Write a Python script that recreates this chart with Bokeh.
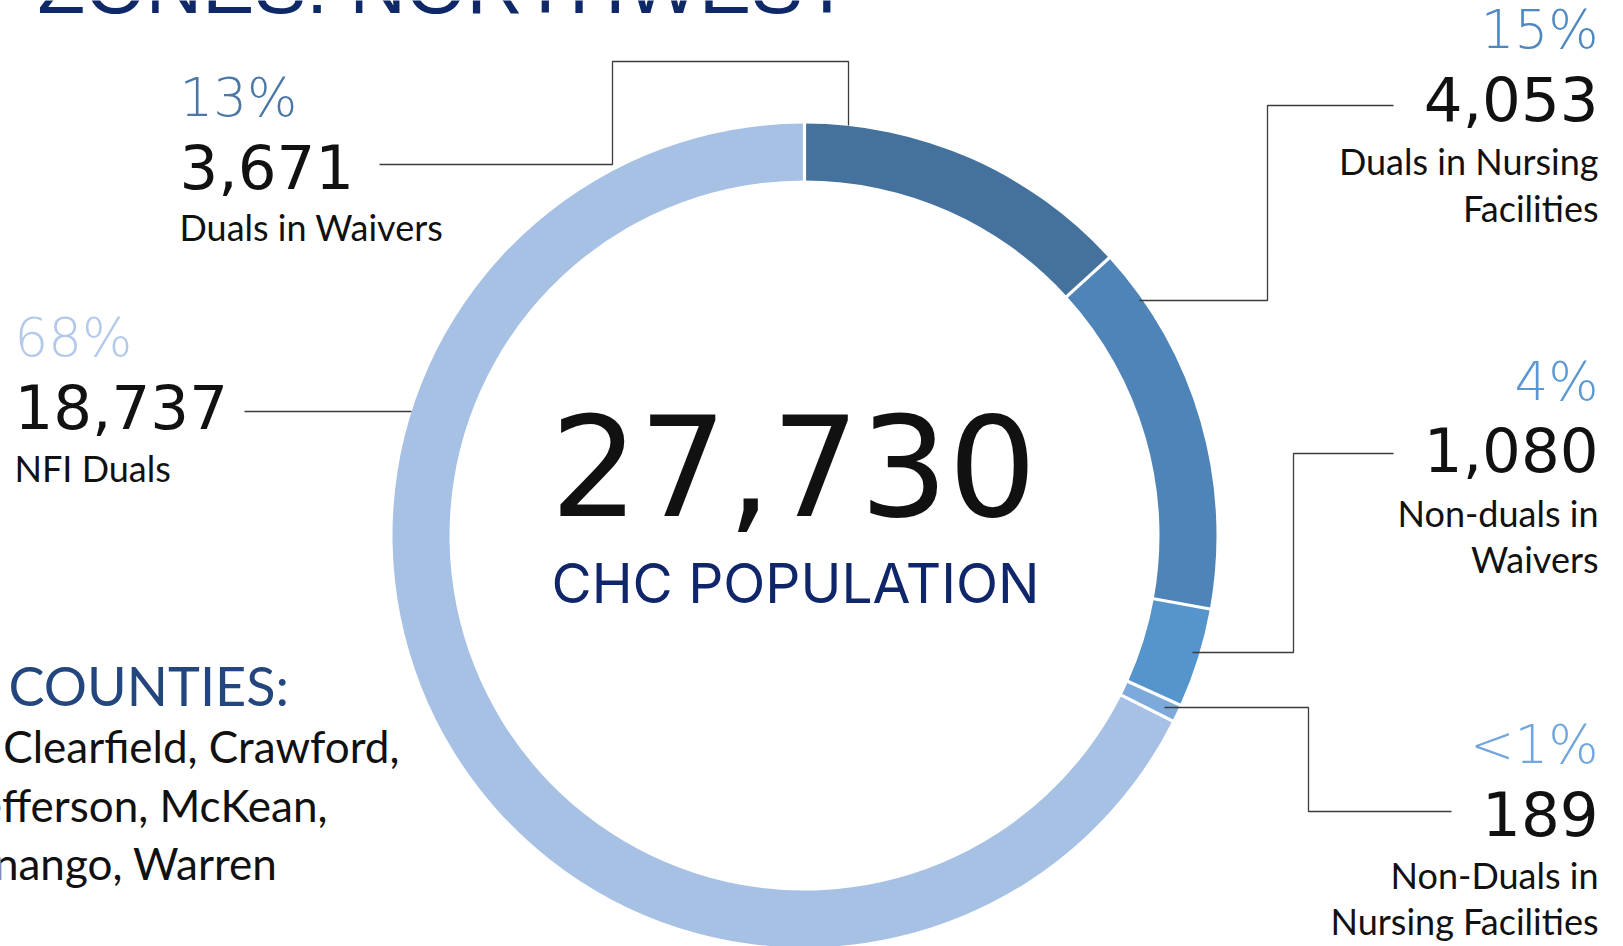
import numpy as np
from bokeh.plotting import figure
from bokeh.models import Range1d, ColumnDataSource
from bokeh.core.properties import value
from bokeh.embed import file_html
from bokeh.resources import INLINE

# ---------------- data ----------------
categories = ["Duals in Waivers", "Duals in Nursing Facilities", "Non-duals in Waivers",
              "Non-Duals in Nursing Facilities", "NFI Duals"]
counts = [3671, 4053, 1080, 189, 18737]
pct_labels = ["13%", "15%", "4%", "<1%", "68%"]
count_labels = ["3,671", "4,053", "1,080", "189", "18,737"]
desc_lines = [["Duals in Waivers"], ["Duals in Nursing", "Facilities"], ["Non-duals in", "Waivers"],
              ["Non-Duals in", "Nursing Facilities"], ["NFI Duals"]]
total_label = "27,730"
center_caption = "CHC POPULATION"
title_text = "ZONES: NORTHWEST"
counties_heading = "COUNTIES:"
counties_lines = ["Clearfield, Crawford,", "Jefferson, McKean,", "Venango, Warren"]

# ---------------- styles / layout ----------------
seg_colors = ["#44729d", "#4f84b8", "#5694cc", "#7eaadb", "#a6c1e4"]
pct_colors = ["#4a77a6", "#4f88c0", "#5b98d2", "#72a6dc", "#b3c9ea"]
W, H = 1623, 946
def Y(y):
    return H - y

def TB(y, fs, k=0.4):
    # baseline position correction for the svg text layout
    return Y(y - k * fs)

CX, CY = 804, 535
R_IN, R_OUT = 355, 412

p = figure(width=W, height=H, x_range=Range1d(0, W), y_range=Range1d(0, H),
           output_backend="svg", toolbar_location=None, min_border=0,
           x_axis_type=None, y_axis_type=None)
p.grid.visible = False
p.outline_line_color = None
p.background_fill_color = "white"
p.border_fill_color = "white"

# donut
total = sum(counts)
frac = np.concatenate([[0], np.cumsum(counts)]) / total
starts = np.pi / 2 - 2 * np.pi * frac[:-1]
ends = np.pi / 2 - 2 * np.pi * frac[1:]
src = ColumnDataSource(dict(start=starts, end=ends, color=seg_colors, cat=categories))
p.annular_wedge(x=CX, y=Y(CY), inner_radius=R_IN, outer_radius=R_OUT, start_angle="start",
                end_angle="end", direction="clock", fill_color="color", line_color=None, source=src)
b = starts
p.segment(x0=CX + (R_IN - 3) * np.cos(b), y0=Y(CY) + (R_IN - 3) * np.sin(b),
          x1=CX + (R_OUT + 3) * np.cos(b), y1=Y(CY) + (R_OUT + 3) * np.sin(b),
          line_color="white", line_width=3.2)

# leader lines (reference pixel coords)
leaders = [
    [(379, 164), (612, 164), (612, 61), (848, 61), (848, 125)],
    [(1393, 105), (1267, 105), (1267, 300), (1139, 300)],
    [(1393, 453), (1293, 453), (1293, 652), (1192, 652)],
    [(1451, 811), (1308, 811), (1308, 707), (1164, 707)],
    [(244, 411), (411, 411)],
]
p.multi_line(xs=[[pt[0] for pt in L] for L in leaders], ys=[[Y(pt[1]) for pt in L] for L in leaders],
             line_color="#3c3c3c", line_width=1.3)

# label anchors: (x, align, pct_baseline, count_baseline, desc_baselines)
anchors = [
    (179, "left", 118, 190, [241]),
    (1598, "right", 50, 122, [175, 222]),
    (1598, "right", 402, 473, [527, 573]),
    (1598, "right", 765, 837, [889, 935]),
    (14, "left", 358, 430, [482]),
]
PCT_FONT, PCT_FS = value("DejaVu Sans Light"), 53
NUM_FONT, NUM_FS = value("DejaVu Sans"), 61
DESC_FONT, DESC_FS = value("Lato"), 36
for i, (ax, al, pb, cb, dbs) in enumerate(anchors):
    p.text(x=[ax], y=[TB(pb, PCT_FS)], text=[pct_labels[i]], text_font=PCT_FONT,
           text_font_size=f"{PCT_FS}px", text_color=pct_colors[i], text_align=al,
           text_baseline="alphabetic")
    p.text(x=[ax], y=[TB(cb, NUM_FS)], text=[count_labels[i]], text_font=NUM_FONT,
           text_font_size=f"{NUM_FS}px", text_color="#111111", text_align=al,
           text_baseline="alphabetic")
    p.text(x=[ax] * len(dbs), y=[TB(v, DESC_FS) for v in dbs], text=desc_lines[i],
           text_font=DESC_FONT, text_font_size=f"{DESC_FS}px", text_color="#111111",
           text_align=al, text_baseline="alphabetic")

# center
p.text(x=[793], y=[TB(520, 139)], text=[total_label], text_font=value("DejaVu Sans"),
       text_font_size="139px", text_color="#111111", text_align="center", text_baseline="alphabetic")
p.text(x=[795], y=[TB(604, 55)], text=[center_caption], text_font=value("Inter"),
       text_font_size="55px", text_color="#10266a", text_align="center", text_baseline="alphabetic")

# title (clipped at the top edge, as in the reference)
p.text(x=[37], y=[TB(17, 78)], text=[title_text], text_font=value("Liberation Sans"),
       text_font_size="78px", text_color="#0e2868", text_align="left", text_baseline="alphabetic")

# counties
p.text(x=[8], y=[TB(707, 54)], text=[counties_heading], text_font=value("Lato"), text_font_size="54px",
       text_color="#24467e", text_align="left", text_baseline="alphabetic")
p.text(x=[399, 327, 277], y=[TB(763, 44), TB(822, 44), TB(880, 44)], text=counties_lines,
       text_font=value("Lato"), text_font_size="44px", text_color="#111111", text_align="right",
       text_baseline="alphabetic")

open("out.html", "w").write(file_html(p, INLINE))
